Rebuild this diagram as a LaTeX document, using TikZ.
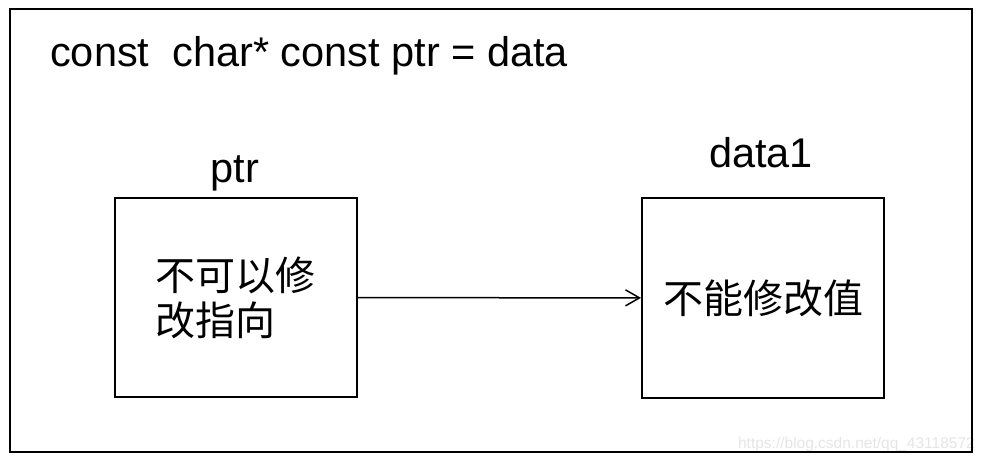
\documentclass[tikz,border=0pt]{standalone}
\usepackage{fontspec}
\setmainfont{Liberation Sans}
\newfontfamily\cjk{Noto Sans CJK SC}
\usetikzlibrary{arrows.meta}
\begin{document}
\begin{tikzpicture}[x=1pt,y=-1pt,
  framebox/.style={draw=black,line width=2pt},
  membox/.style={draw=black,line width=2pt,minimum width=242pt,minimum height=199pt,inner sep=0pt,
    font=\cjk\fontsize{40}{45}\selectfont,align=left},
  lbl/.style={inner sep=0pt,font=\fontsize{41.5}{45}\selectfont},
  wmark/.style={inner sep=0pt,font=\fontsize{15.5}{18}\selectfont,text=black!10}
]
\useasboundingbox (0,0) rectangle (984,462);
\node[wmark,anchor=base east] (wm) at (975,448) {https://blog.csdn.net/qq\_43118572};
\draw[framebox] (10,9) rectangle (972,452);
\node[lbl,anchor=base west] (title) at (50,67) {const\ \ char* const ptr = data};
\node[membox] (box1) at (235.5,297.5) {不可以修\\改指向};
\node[membox] (box2) at (763,298) {不能修改值};
\node[lbl,anchor=base] (l1) at (235,183) {ptr};
\node[lbl,anchor=base] (l2) at (761,168) {data1};
\draw[line width=1.5pt,-{Straight Barb[length=14pt,width=16pt,line width=1.5pt]}] (box1) -- (box2);
\end{tikzpicture}
\end{document}
